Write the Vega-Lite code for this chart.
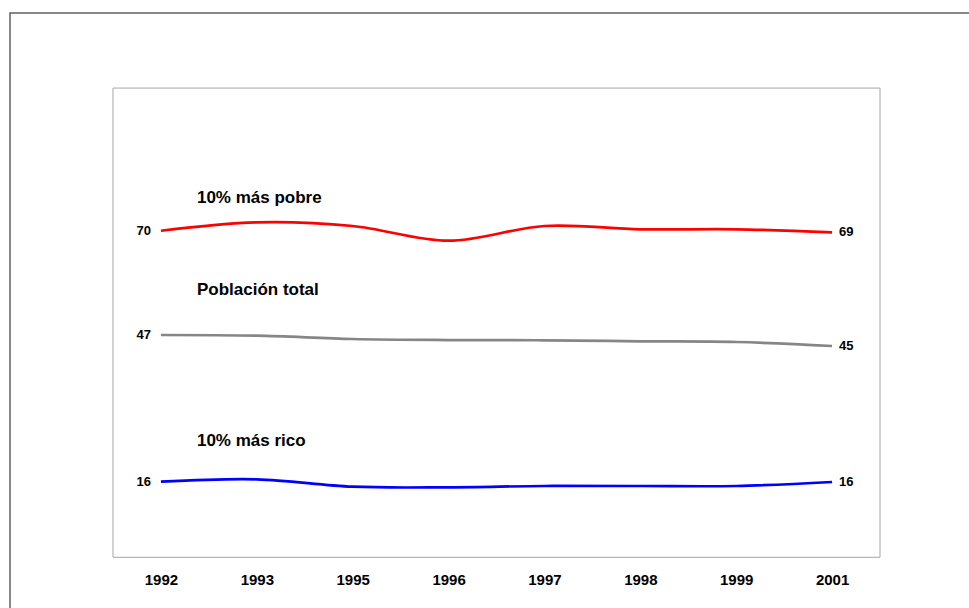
{
  "$schema": "https://vega.github.io/schema/vega-lite/v6.json",
  "autosize": {"type": "none"},
  "padding": {"left": 10, "top": 13, "right": 0, "bottom": 0},
  "width": 973,
  "height": 610,
  "background": "white",
  "config": {
    "view": {"stroke": "#606060", "strokeWidth": 1.5},
    "font": "Liberation Sans"
  },
  "datasets": {
    "box": [
      {"a": "1992", "b": "2001", "lo": 0, "hi": 100}
    ],
    "edges": [
      {"a": "1992", "b": "2001", "h": 0},
      {"a": "1992", "b": "2001", "h": 100}
    ],
    "lines": [
      {"year": "1992", "serie": "pobre", "value": 69.60, "lab": "70"},
      {"year": "1993", "serie": "pobre", "value": 71.39},
      {"year": "1995", "serie": "pobre", "value": 70.61},
      {"year": "1996", "serie": "pobre", "value": 67.47},
      {"year": "1997", "serie": "pobre", "value": 70.61},
      {"year": "1998", "serie": "pobre", "value": 69.90},
      {"year": "1999", "serie": "pobre", "value": 69.90},
      {"year": "2001", "serie": "pobre", "value": 69.26, "lab": "69"},
      {"year": "1992", "serie": "total", "value": 47.38, "lab": "47"},
      {"year": "1993", "serie": "total", "value": 47.23},
      {"year": "1995", "serie": "total", "value": 46.52},
      {"year": "1996", "serie": "total", "value": 46.30},
      {"year": "1997", "serie": "total", "value": 46.25},
      {"year": "1998", "serie": "total", "value": 46.03},
      {"year": "1999", "serie": "total", "value": 45.88},
      {"year": "2001", "serie": "total", "value": 45.03, "lab": "45"},
      {"year": "1992", "serie": "rico", "value": 16.11, "lab": "16"},
      {"year": "1993", "serie": "rico", "value": 16.62},
      {"year": "1995", "serie": "rico", "value": 15.05},
      {"year": "1996", "serie": "rico", "value": 14.92},
      {"year": "1997", "serie": "rico", "value": 15.20},
      {"year": "1998", "serie": "rico", "value": 15.20},
      {"year": "1999", "serie": "rico", "value": 15.20},
      {"year": "2001", "serie": "rico", "value": 16.05, "lab": "16"}
    ],
    "names": [
      {"year": "1992", "value": 76.53, "name": "10% más pobre"},
      {"year": "1992", "value": 56.97, "name": "Población total"},
      {"year": "1992", "value": 24.79, "name": "10% más rico"}
    ]
  },
  "layer": [
    {
      "data": {"name": "lines"},
      "mark": {"type": "line", "interpolate": "catmull-rom", "strokeWidth": 2.7},
      "encoding": {
        "x": {
          "field": "year", "type": "ordinal",
          "scale": {"type": "point", "padding": 0.5, "range": [103, 870],
                    "domain": ["1992", "1993", "1995", "1996", "1997", "1998", "1999", "2001"]},
          "axis": {"title": null, "domain": false, "ticks": false, "tickSize": 0, "grid": false,
                   "offset": -66, "labelPadding": 22, "labelBaseline": "middle", "labelAngle": 0,
                   "labelFont": "Liberation Sans", "labelFontSize": 15,
                   "labelFontWeight": "bold", "labelColor": "black"}
        },
        "y": {"field": "value", "type": "quantitative",
              "scale": {"domain": [-14, 116], "nice": false, "zero": false}, "axis": null},
        "color": {"field": "serie", "type": "nominal",
                  "scale": {"domain": ["pobre", "total", "rico"], "range": ["#ff0000", "#868686", "#0000ff"]},
                  "legend": null}
      }
    },
    {
      "data": {"name": "box"},
      "mark": {"type": "rule", "xOffset": -47.94, "stroke": "#a6a6a6", "strokeWidth": 1},
      "encoding": {
        "x": {"field": "a", "type": "ordinal"},
        "y": {"field": "lo", "type": "quantitative"},
        "y2": {"field": "hi"}
      }
    },
    {
      "data": {"name": "box"},
      "mark": {"type": "rule", "xOffset": 47.94, "stroke": "#a6a6a6", "strokeWidth": 1},
      "encoding": {
        "x": {"field": "b", "type": "ordinal"},
        "y": {"field": "lo", "type": "quantitative"},
        "y2": {"field": "hi"}
      }
    },
    {
      "data": {"name": "edges"},
      "mark": {"type": "rule", "xOffset": -47.94, "x2Offset": 47.94, "stroke": "#a6a6a6", "strokeWidth": 1},
      "encoding": {
        "x": {"field": "a", "type": "ordinal"},
        "x2": {"field": "b"},
        "y": {"field": "h", "type": "quantitative"}
      }
    },
    {
      "data": {"name": "lines"},
      "transform": [{"filter": "datum.year == '1992'"}],
      "mark": {"type": "text", "align": "right", "baseline": "middle", "dx": -10,
               "fontSize": 13, "fontWeight": "bold", "color": "black"},
      "encoding": {
        "x": {"field": "year", "type": "ordinal"},
        "y": {"field": "value", "type": "quantitative"},
        "text": {"field": "lab"}
      }
    },
    {
      "data": {"name": "lines"},
      "transform": [{"filter": "datum.year == '2001'"}],
      "mark": {"type": "text", "align": "left", "baseline": "middle", "dx": 7,
               "fontSize": 13, "fontWeight": "bold", "color": "black"},
      "encoding": {
        "x": {"field": "year", "type": "ordinal"},
        "y": {"field": "value", "type": "quantitative"},
        "text": {"field": "lab"}
      }
    },
    {
      "data": {"name": "names"},
      "mark": {"type": "text", "align": "left", "baseline": "middle", "dx": 36,
               "fontSize": 17, "fontWeight": "bold", "color": "black"},
      "encoding": {
        "x": {"field": "year", "type": "ordinal"},
        "y": {"field": "value", "type": "quantitative"},
        "text": {"field": "name"}
      }
    }
  ]
}
